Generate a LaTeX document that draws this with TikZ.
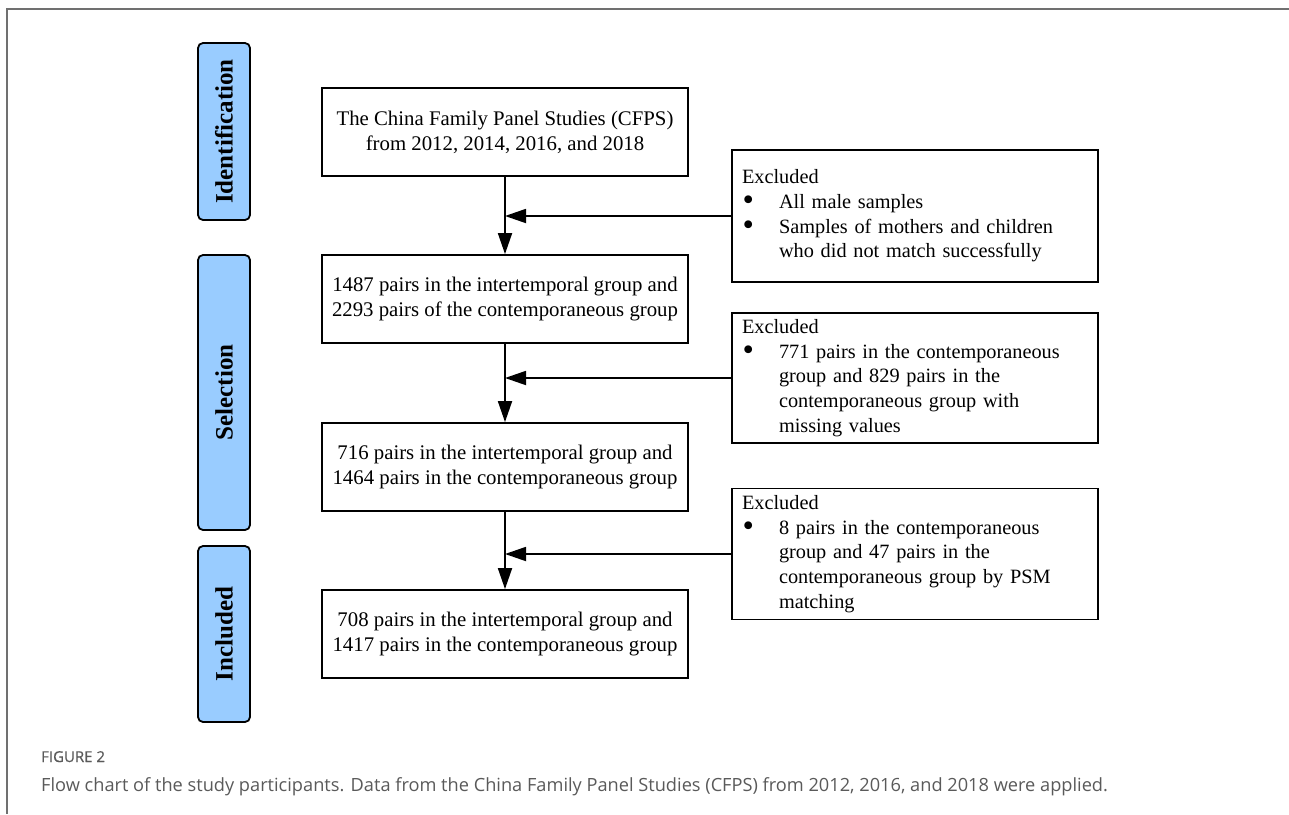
\documentclass[tikz,border=0pt]{standalone}
\usepackage{fontspec}
\setmainfont{Liberation Serif}
\newfontfamily\capfont{Open Sans}
\newfontfamily\capfontsb[FakeBold=0.6]{Open Sans}
\usetikzlibrary{arrows.meta}
\definecolor{stageblue}{HTML}{99CCFF}
\definecolor{framegray}{HTML}{707070}
\definecolor{capgray}{HTML}{5A5A5A}
\newcommand{\bulitem}{\makebox[37pt][l]{\hspace*{0.5pt}\smash{\raisebox{-2.3pt}{\scalebox{1.6}{\textbullet}}}}}
\newcommand{\contline}{\hspace*{37pt}}
\tikzset{
  mainbox/.style={draw=black, line width=1.8pt, minimum width=366pt, minimum height=88pt,
    align=center, font=\fontsize{20.8}{25}\selectfont, inner sep=0pt},
  exbox/.style={draw=black, line width=1.8pt, minimum width=366pt, text width=346pt,
    align=left, font=\fontsize{20.3}{24.6}\selectfont, inner xsep=10pt, inner ysep=0pt},
  stagebox/.style={draw=black, fill=stageblue, line width=1.8pt, rounded corners=5pt,
    rotate=90, minimum height=52pt, font=\fontsize{25}{28}\selectfont\bfseries, inner sep=0pt},
  arr/.style={line width=1.8pt, -{Triangle[length=21pt,width=14pt]}},
  frameline/.style={draw=framegray, line width=1.8pt}
}
\begin{document}
\begin{tikzpicture}[x=1pt, y=-1pt]
\useasboundingbox (0,0) rectangle (1289,814);
\fill[white] (0,0) rectangle (1289,814);
% outer frame
\coordinate (fTL) at (7,9);
\coordinate (fTR) at (1289,9);
\coordinate (fBL) at (7,814);
\draw[frameline] (fTR) -- (fTL) -- (fBL);
% stage labels
\node[stagebox, minimum width=177pt] (s1) at (224,131.5) {Identification};
\node[stagebox, minimum width=275pt] (s2) at (224,392.5) {Selection};
\node[stagebox, minimum width=176pt] (s3) at (224,634) {Included};
% main boxes
\node[mainbox] (b1) at (505,132) {The China Family Panel Studies (CFPS)\\from 2012, 2014, 2016, and 2018};
\node[mainbox] (b2) at (505,299) {1487 pairs in the intertemporal group and\\2293 pairs of the contemporaneous group};
\node[mainbox] (b3) at (505,467) {716 pairs in the intertemporal group and\\1464 pairs in the contemporaneous group};
\node[mainbox] (b4) at (505,634) {708 pairs in the intertemporal group and\\1417 pairs in the contemporaneous group};
% excluded boxes
\node[exbox, minimum height=132pt] (e1) at (915,216) {Excluded\\
\bulitem All male samples\\
\bulitem Samples of mothers and children\\
\contline who did not match successfully};
\node[exbox, minimum height=130pt] (e2) at (915,378) {Excluded\\
\bulitem 771 pairs in the contemporaneous\\
\contline group and 829 pairs in the\\
\contline contemporaneous group with\\
\contline missing values};
\node[exbox, minimum height=131pt] (e3) at (915,554) {Excluded\\
\bulitem 8 pairs in the contemporaneous\\
\contline group and 47 pairs in the\\
\contline contemporaneous group by PSM\\
\contline matching};
% connectors
\draw[arr] (b1.south) -- (b2.north);
\draw[arr] (b2.south) -- (b3.north);
\draw[arr] (b3.south) -- (b4.north);
\draw[arr] (e1.west) -- (e1.west -| b1.south);
\draw[arr] (e2.west) -- (e2.west -| b2.south);
\draw[arr] (e3.west) -- (e3.west -| b3.south);
% caption
\node[anchor=base west, inner sep=0pt, text=capgray, font=\capfontsb\fontsize{15}{17}\selectfont] (cap1) at (41,762) {FIGURE 2};
\node[anchor=base west, inner sep=0pt, text=capgray, font=\capfont\fontsize{18.2}{21}\selectfont] (cap2) at (41,791) {Flow chart of the study participants. Data from the China Family Panel Studies (CFPS) from 2012, 2016, and 2018 were applied.};
\end{tikzpicture}
\end{document}
